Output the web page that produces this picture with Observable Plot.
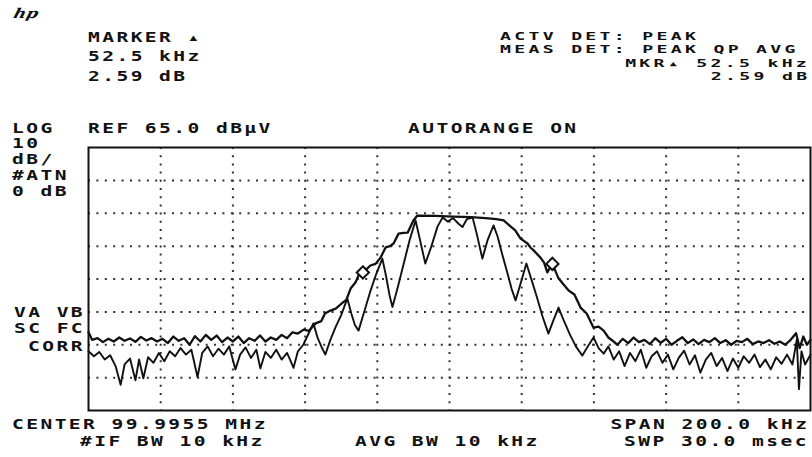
<!DOCTYPE html>
<html>
<head>
<meta charset="utf-8">
<script src="https://cdn.jsdelivr.net/npm/d3@7"></script>
<script src="https://cdn.jsdelivr.net/npm/@observablehq/plot@0.6"></script>
<style>
  html, body { margin: 0; padding: 0; background: #fff; }
  #wrap { position: relative; width: 812px; height: 457px; overflow: hidden; background: #fff; }
  #chart { position: absolute; left: 0; top: 0; }
  .t {
    position: absolute;
    font-family: "DejaVu Sans Mono", "Liberation Mono", monospace;
    font-weight: bold;
    font-size: 14.5px;
    line-height: 11px;
    height: 11px;
    letter-spacing: 1.8px;
    white-space: pre;
    color: #111;
    transform: scaleX(1.35);
    transform-origin: left center;
  }
  .t.s { font-size: 11px; letter-spacing: 2px; transform: scaleX(1.65); }
  .t.r { transform-origin: right center; text-align: right; }
  .logo {
    position: absolute; left: 14px; top: 5px;
    font-family: "DejaVu Serif", serif; font-style: italic; font-weight: bold;
    font-size: 17px; line-height: 17px; color: #111; transform: skewX(-15deg) scaleY(0.8);
  }
</style>
</head>
<body>
<div id="wrap">
  <div id="chart"></div>
  <div class="logo">hp</div>
  <div class="t" style="left:88px;top:32px">MARKER ▴</div>
  <div class="t" style="left:88px;top:51px">52.5 kHz</div>
  <div class="t" style="left:88px;top:71px">2.59 dB</div>

  <div class="t s" style="left:500px;top:30.5px">ACTV DET: PEAK</div>
  <div class="t s" style="left:500px;top:44px">MEAS DET: PEAK QP AVG</div>
  <div class="t s r" style="right:2px;top:57.5px">MKR▴ 52.5 kHz</div>
  <div class="t s r" style="right:2px;top:71px">2.59 dB</div>

  <div class="t" style="left:12px;top:123px">LOG</div>
  <div class="t" style="left:88px;top:123px">REF 65.0 dBμV</div>
  <div class="t" style="left:408px;top:123px">AUTORANGE ON</div>
  <div class="t" style="left:12px;top:138px">10</div>
  <div class="t" style="left:12px;top:154px">dB/</div>
  <div class="t" style="left:12px;top:170px">#ATN</div>
  <div class="t" style="left:12px;top:186px">0 dB</div>

  <div class="t" style="left:14px;top:307px">VA VB</div>
  <div class="t" style="left:14px;top:323px">SC FC</div>
  <div class="t" style="left:28px;top:341px">CORR</div>

  <div class="t" style="left:12px;top:419px">CENTER 99.9955 MHz</div>
  <div class="t" style="left:80px;top:436px">#IF BW 10 kHz</div>
  <div class="t" style="left:355px;top:436px">AVG BW 10 kHz</div>
  <div class="t r" style="right:3px;top:419px">SPAN 200.0 kHz</div>
  <div class="t r" style="right:3px;top:436px">SWP 30.0 msec</div>
</div>
<script>
// Frequency offset from centre (kHz) and level (dBμV)
const upperF = [
  -100, -99, -97.5, -96, -94.5, -93, -91.5, -90, -88.5, -87, -85.5, -84, -82.5, -81, -79.5, -78,
  -76.5, -75, -73.5, -72, -70.5, -69, -67.5, -66, -64.5, -63, -61.5, -60, -58.5, -57, -55.5, -54,
  -52.5, -51, -49.5, -48, -46.5, -45, -43.5,
  -42, -40.4, -39, -37.1, -35.5, -34.5, -33, -31.5, -29.6, -28.6, -27.4, -26, -25.2, -23.5, -21.9,
  -20.5, -19.1, -17.7, -16.5, -15.5, -14.1, -12.8, -11.6, -10.0, -8.9,
  -4, 1, 6, 10, 13, 15,
  16.9, 18.2, 19.7, 21.6, 22.5, 23.3, 25.2, 26.2, 27.1, 28.5, 30.2, 31.6, 33.0, 34.6, 36.3, 38.0,
  39.9, 41.3, 42.7, 44.0,
  45.1, 46.5, 48, 49.5, 51, 52.5, 54, 55.5, 57, 58.5, 60, 61.5, 63, 64.5, 66, 67.5, 69, 70.5, 72,
  73.5, 75, 76.5, 78, 79.5, 81, 82.5, 84, 85.5, 87, 88.5, 90, 91.5, 93, 94.5, 96, 97, 98, 99, 100
];
const upperDb = [
  8.8, 6.5, 7.0, 5.8, 6.8, 6.0, 7.2, 6.2, 6.9, 5.9, 7.4, 6.3, 7.0, 6.0, 6.8, 5.5,
  7.5, 6.2, 7.0, 5.0, 7.6, 6.0, 8.0, 6.5, 7.8, 5.8, 7.2, 6.0, 7.5, 5.5, 7.0, 6.2,
  7.8, 6.0, 7.2, 6.5, 8.0, 7.0, 8.8,
  8.4, 9.6, 9.2, 11.5, 12.2, 14.5, 15.4, 16.0, 17.8, 18.6, 22.1, 24.0, 26.1, 27.5, 29.1,
  29.6, 31.5, 34.6, 35.0, 35.8, 38.8, 39.0, 39.1, 42.8, 44.3,
  44.2, 44.0, 43.8, 43.5, 43.2, 42.8,
  41.0, 39.8, 37.3, 35.8, 34.5, 33.7, 31.5, 30.0, 27.0, 29.6, 25.2, 23.3, 21.5, 20.3, 16.3, 14.5,
  10.2, 10.5, 9.3, 7.2,
  6.3, 5.0, 6.8, 5.5, 7.2, 5.8, 6.5, 5.2, 7.0, 5.6, 6.8, 5.0, 6.2, 7.3, 5.5, 6.6, 5.2, 6.5, 5.8,
  7.0, 5.5, 6.4, 5.0, 6.2, 5.8, 6.8, 5.2, 6.0, 5.5, 6.4, 5.3, 6.0, 5.0, 6.5, 8.5, 4.0, 7.5, 5.0, 6.5
];
const lowerF = [
  -100, -98.5, -97, -95.5, -94, -92.5, -91.1, -90, -88.5, -87, -86, -84.8, -83.5, -82, -80.5, -79,
  -77.5, -76, -74.5, -73, -71.5, -69.8, -68.5, -67, -65.5, -64, -62.5, -61, -59.3, -58, -56.5, -55,
  -53.5, -52.4, -51, -49.5, -48, -46.5, -45, -43.2, -42,
  -40.5, -39, -37.7, -36.5, -35.3, -34.4, -33, -31.5, -30, -28.3, -27.2, -26.2, -25.2, -23.5, -22,
  -20.3, -18.6, -17.6, -16.6, -15.8, -14.2, -12.5, -11, -9.4, -8.3, -6.7, -5.0, -3.3, -1.9,
  -0.5, 1.0, 2.5, 3.6, 4.8, 6.4, 7.6, 9.1, 10.6, 12.2, 13.3, 14.6, 16.0, 17.2, 18.3, 19.8, 21.3,
  22.8, 24.2, 25.8, 27.4, 28.8, 30.2, 31.8, 33.4, 35.0, 36.8, 38.3, 39.9, 41.3, 42.7,
  44, 45.5, 47, 48.5, 50, 51.5, 53, 54.5, 56, 57.5, 59, 60.5, 62, 63.5, 65, 66.5, 68, 69.5, 71,
  72.5, 74, 75.5, 77, 78.5, 80, 81.5, 83, 84.5, 86, 87.5, 89, 90.5, 92, 93.5, 95, 96.2, 96.8,
  97.5, 98.5, 100
];
const lowerDb = [
  3.0, 1.5, 2.8, 0.5, 1.8, -1.5, -7.2, -1.0, 0.8, -5.8, 0.5, -5.2, 1.2, -0.5, 2.5, 0.0,
  3.0, 1.5, 4.0, 2.0, 3.5, -4.8, 2.5, 4.5, 1.5, 3.8, 2.0, 4.5, -2.5, 2.0, 4.2, 1.0,
  3.5, -2.2, 2.8, 1.0, 3.5, 0.5, 2.5, -2.0, 3.0,
  5.0, 8.5, 11.5, 7.0, 4.0, 2.0, 6.5, 10.5, 14.0, 19.1, 14.5, 11.0, 9.3, 15.5, 21.0,
  26.5, 31.2, 26.0, 20.0, 16.5, 23.0, 30.5, 37.0, 42.8, 37.5, 29.7, 35.0, 41.0, 43.7,
  42.5, 43.5, 41.8, 40.8, 43.2, 43.7, 38.5, 31.2, 37.0, 41.3, 38.0, 32.5, 27.0, 22.0, 18.5, 24.0, 29.7,
  24.5, 19.5, 13.5, 8.4, 12.5, 16.3, 12.0, 8.0, 4.5, 1.7, 4.5, 7.2, 4.0, 2.3,
  4.5, 0.5, 3.0, -1.5, 2.5, 0.0, 3.5, -2.0, 1.5, 3.0, -0.5, 2.0, -2.5, 1.0, 3.2, -1.0, 1.8, -3.5, 0.5,
  2.5, -1.5, 1.0, -3.0, 0.8, -2.0, 1.5, -0.5, 2.0, -1.8, 0.5, -2.5, 1.2, -0.8, 2.0, -1.0, 6.5, -8.5,
  3.0, -1.0, 2.0
];
// Delta markers
const markerF = [-24.0, 28.5];
const markerDb = [27.0, 29.6];
// Graticule (10 x 20 kHz, 8 x 10 dB)
const gridF = [-80, -60, -40, -20, 0, 20, 40, 60, 80];
const gridDb = [-5, 5, 15, 25, 35, 45, 55];

const upper = upperF.map((f, i) => ({f, db: upperDb[i]}));
const lower = lowerF.map((f, i) => ({f, db: lowerDb[i]}));
const markers = markerF.map((f, i) => ({f, db: markerDb[i]}));

const chart = Plot.plot({
  width: 812,
  height: 457,
  marginLeft: 88,
  marginRight: 2,
  marginTop: 147,
  marginBottom: 47,
  style: {background: "transparent"},
  x: {domain: [-100, 100], axis: null},
  y: {domain: [-15, 65], axis: null},
  marks: [
    Plot.ruleX(gridF, {stroke: "#333", strokeWidth: 2, strokeDasharray: "2,6.2"}),
    Plot.ruleY(gridDb, {stroke: "#333", strokeWidth: 2, strokeDasharray: "2,6.4"}),
    Plot.line(lower, {x: "f", y: "db", stroke: "#111", strokeWidth: 1.9, strokeLinejoin: "round"}),
    Plot.line(upper, {x: "f", y: "db", stroke: "#111", strokeWidth: 2.3, strokeLinejoin: "round"}),
    Plot.dot(markers, {x: "f", y: "db", symbol: "diamond2", r: 5.5, stroke: "#111", strokeWidth: 2, fill: "#fff"}),
    Plot.frame({stroke: "#111", strokeWidth: 2})
  ]
});
document.getElementById("chart").appendChild(chart);
</script>
</body>
</html>
